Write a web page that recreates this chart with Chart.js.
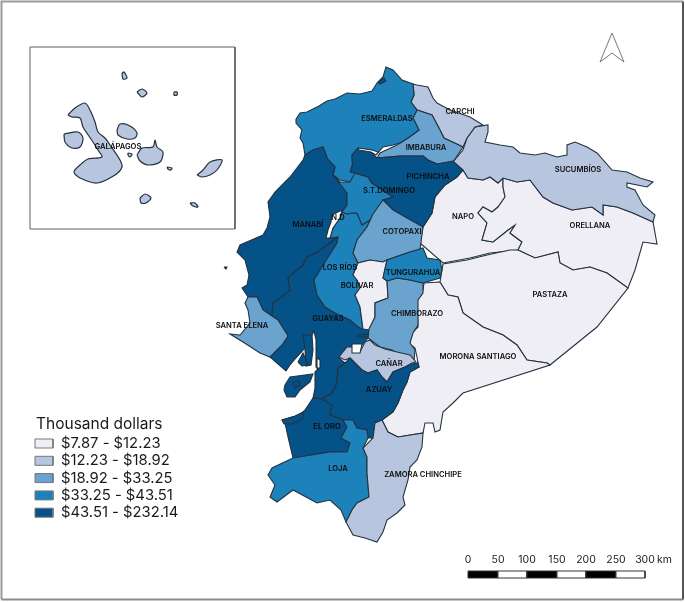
<!DOCTYPE html>
<html>
<head>
<meta charset="utf-8">
<title>Ecuador - Thousand dollars</title>
<script src="https://cdn.jsdelivr.net/npm/chart.js@4"></script>
<style>
  html, body { margin: 0; padding: 0; background: #fff; }
  canvas { display: block; }
</style>
</head>
<body>
<canvas id="map" width="685" height="602"></canvas>
<script>
// ================================================================
// Data: legend classes, provinces and map outlines
// (outlines are in map units)
// ================================================================
const legendTitle = "Thousand dollars";
const classLabels = ["$7.87 - $12.23", "$12.23 - $18.92", "$18.92 - $33.25", "$33.25 - $43.51", "$43.51 - $232.14"];
const classColors = ["#f0eef5", "#b8c5de", "#6ba3cf", "#1d82b9", "#045287"];

const napo = [[463,170],[468,178],[483,180],[490,177],[498,183],[503,178],[503,187],[505,197],[498,207],[492,212],[483,207],[478,213],[487,223],[482,240],[493,242],[508,230],[515,225],[510,233],[522,242],[518,250],[490,253],[470,258],[443,263],[420,243],[423,227],[432,213],[435,197],[445,185],[457,177]];
const orellana = [[503,178],[503,187],[505,197],[498,207],[492,212],[483,207],[478,213],[487,223],[482,240],[493,242],[508,230],[515,225],[510,233],[522,242],[518,250],[535,258],[558,252],[560,263],[573,270],[590,267],[607,273],[628,288],[635,270],[643,242],[657,244],[653,222],[633,213],[617,207],[603,205],[603,215],[592,207],[572,210],[553,203],[543,197],[530,180],[517,182]];
const pastaza = [[440,282],[443,264],[467,260],[487,255],[510,250],[518,250],[535,258],[558,252],[560,263],[573,270],[590,267],[607,273],[628,288],[597,327],[550,365],[547,363],[527,360],[517,345],[503,335],[483,327],[463,313],[458,297],[448,295]];
const morona = [[440,282],[448,295],[458,297],[463,313],[483,327],[503,335],[517,345],[527,360],[547,363],[550,365],[463,393],[453,403],[443,412],[440,430],[435,432],[433,423],[425,423],[423,433],[398,437],[388,432],[382,420],[393,412],[398,403],[403,390],[407,382],[410,372],[419,367],[418,363],[417,357],[415,348],[408,343],[412,333],[418,327],[417,300],[423,290],[424,283]];
const sucumbios = [[453,162],[463,150],[467,138],[475,127],[488,125],[488,132],[485,142],[500,145],[513,147],[520,153],[535,155],[545,153],[557,157],[567,155],[567,145],[575,142],[587,147],[597,153],[612,170],[627,172],[640,178],[653,182],[647,187],[627,183],[627,187],[635,190],[643,205],[655,215],[653,222],[633,213],[617,207],[603,205],[603,215],[592,207],[572,210],[553,203],[543,197],[530,180],[517,182],[503,178],[498,183],[490,177],[483,180],[468,178],[463,170]];
const carchi = [[413,84],[417,85],[428,87],[433,98],[437,103],[450,110],[470,117],[483,125],[475,127],[467,138],[463,147],[444,138],[440,130],[432,115],[417,110],[411,102],[414,95]];
const imbabura = [[377,158],[380,153],[397,145],[408,138],[419,130],[413,118],[417,110],[432,115],[440,130],[444,138],[463,147],[453,162],[437,164],[428,160],[423,156],[400,156]];
const esmeraldas = [[296,119],[300,113],[307,112],[319,106],[327,101],[335,99],[347,93],[360,94],[372,91],[377,83],[383,77],[386,67],[393,70],[402,80],[413,84],[414,95],[411,102],[417,110],[413,118],[419,130],[408,138],[400,143],[393,145],[383,147],[377,154],[372,150],[358,148],[352,155],[353,162],[350,172],[357,173],[350,182],[340,180],[333,175],[335,167],[328,160],[323,147],[313,150],[305,155],[303,143],[300,138],[302,130],[296,123]];
const manabi = [[305,155],[313,150],[323,147],[327,158],[335,167],[333,175],[340,182],[347,193],[347,205],[342,212],[340,218],[333,228],[330,238],[338,237],[318,252],[307,257],[303,265],[288,278],[290,290],[282,297],[273,303],[272,316],[263,310],[257,297],[248,297],[242,288],[247,285],[249,275],[245,260],[237,252],[240,245],[263,235],[267,228],[270,217],[268,202],[275,192],[290,177],[303,160]];
const guayas = [[272,316],[273,303],[282,297],[290,290],[288,278],[303,265],[307,257],[318,252],[338,237],[337,243],[325,262],[314,280],[317,295],[325,307],[335,313],[350,320],[358,327],[363,329],[369,329],[368,338],[360,347],[352,345],[339,358],[345,363],[338,368],[337,383],[332,393],[322,399],[313,398],[315,388],[315,372],[318,369],[316,367],[316,340],[314,331],[312,335],[306,347],[296,358],[290,365],[286,371],[270,357],[282,345],[288,336],[278,320]];
const santaElena = [[248,297],[257,297],[263,310],[272,316],[278,320],[288,336],[282,345],[270,357],[260,353],[243,342],[230,334],[240,335],[250,323],[248,310],[245,303]];
const losRios = [[342,212],[347,214],[352,213],[357,213],[362,225],[370,220],[383,200],[373,214],[367,227],[357,240],[353,253],[358,263],[353,275],[357,280],[360,288],[355,295],[360,307],[363,329],[358,327],[350,320],[335,313],[325,307],[317,295],[314,280],[325,262],[337,243],[338,237],[330,238],[333,228],[340,218]];
const santoDomingo = [[333,175],[340,182],[350,182],[355,173],[368,177],[372,183],[393,197],[383,200],[370,220],[362,225],[357,213],[352,213],[347,214],[342,212],[347,205],[347,193]];
const pichincha = [[351,172],[353,162],[352,155],[357,149],[370,151],[377,158],[400,156],[423,156],[428,160],[437,164],[453,161],[463,170],[457,177],[445,185],[435,197],[432,213],[423,227],[407,218],[393,210],[383,200],[393,197],[372,183],[368,177],[355,173]];
const cotopaxi = [[353,253],[357,240],[367,227],[373,214],[383,200],[393,210],[407,218],[423,227],[420,250],[410,252],[387,260],[383,262],[370,260],[358,263]];
const bolivar = [[358,263],[370,260],[383,262],[387,260],[383,278],[387,281],[388,298],[375,303],[375,317],[370,330],[363,329],[360,307],[355,295],[360,288],[357,280],[353,275]];
const chimborazo = [[387,281],[397,278],[410,280],[423,283],[423,293],[418,300],[418,325],[413,333],[410,343],[415,350],[414,362],[408,360],[392,350],[380,347],[368,338],[369,329],[375,317],[375,303],[388,298]];
const tungurahua = [[383,278],[387,260],[410,252],[423,248],[427,258],[440,260],[442,270],[440,278],[423,283],[410,280],[397,278],[387,281]];
const canar = [[339,357],[347,347],[353,347],[353,352],[360,352],[365,342],[370,340],[375,345],[385,349],[397,352],[410,355],[416,362],[412,363],[405,367],[393,372],[387,382],[382,377],[377,370],[368,373],[362,370],[350,358],[345,360]];
const azuay = [[322,399],[332,393],[337,383],[338,368],[345,363],[350,358],[362,370],[368,373],[377,370],[382,377],[387,382],[393,372],[405,367],[412,364],[418,363],[419,367],[410,372],[407,382],[403,390],[398,403],[393,412],[382,420],[375,423],[373,438],[368,438],[367,430],[357,428],[353,420],[343,420],[330,415],[330,405]];
const elOro = [[313,398],[322,399],[332,405],[330,415],[343,420],[347,427],[341,438],[350,443],[347,452],[330,452],[293,458],[288,437],[285,423],[282,420],[300,415],[305,410]];
const loja = [[343,420],[353,420],[357,428],[367,430],[368,438],[363,448],[367,457],[367,473],[369,497],[357,503],[352,510],[346,522],[341,510],[330,500],[317,503],[293,490],[277,502],[270,497],[275,485],[268,475],[272,468],[293,458],[330,452],[347,452],[350,443],[341,438],[347,427]];
const zamora = [[382,420],[388,432],[398,437],[423,433],[422,447],[417,460],[410,467],[408,480],[403,497],[405,505],[397,513],[387,520],[383,532],[377,542],[365,538],[353,535],[346,522],[352,510],[357,503],[369,497],[367,473],[367,457],[363,448],[373,438],[375,423]];

// Galapagos inset
const isabela = [[68,115],[75,108],[85,103],[90,110],[95,122],[98,132],[105,138],[110,145],[120,160],[122,167],[115,175],[97,183],[80,178],[74,172],[80,165],[88,159],[102,157],[98,150],[93,142],[83,127],[80,118],[72,117]];
const fernandina = [[64,134],[78,132],[83,138],[80,147],[72,148],[65,142]];
const santiago = [[117,130],[120,124],[130,126],[137,133],[135,138],[127,139],[118,135]];
const santaCruz = [[137,155],[142,148],[153,147],[155,140],[157,147],[163,152],[160,162],[148,165],[140,161]];
const sanCristobal = [[197,175],[203,170],[210,162],[222,160],[217,170],[210,175],[202,177]];
const floreana = [[140,198],[145,194],[151,198],[146,203],[141,203]];
const espanola = [[190,203],[195,203],[198,207],[193,206]];
const pinta = [[122,73],[124,72],[127,78],[123,79]];
const marchena = [[137,92],[142,89],[147,93],[142,97]];
const genovesa = [[174,92],[177,92],[177,95],[174,95]];
const santaFe = [[167,167],[172,168],[171,170],[168,169]];
const rabida = [[128,153],[132,154],[130,157],[128,155]];
const islands = [isabela, fernandina, santiago, santaCruz, sanCristobal, floreana, espanola, pinta, marchena, genovesa, santaFe, rabida];

// small details on the coast and the undelimited areas
const noDelimitada = [[332,215],[342,210],[340,218],[333,228],[330,238],[326,238],[328,230],[331,222]];
const sliverNorth = [[358,148],[372,150],[378,152],[376,155],[371,152],[359,150]];
const holeCanar = [[352,344],[362,344],[360,353],[352,353]];
const channel = [[317,358],[320,360],[320,368],[317,368]];
const puna = [[284,390],[285,385],[290,377],[313,374],[310,382],[300,390],[295,397],[287,397]];
const punaMangrove = [[293,382],[299,381],[300,385],[295,388]];
const mangroveA = [[303,335],[312,335],[313,350],[311,365],[306,366],[305,350]];
const mangroveB = [[298,362],[303,353],[308,365],[302,366]];
const jambeli = [[282,420],[295,416],[303,412],[304,418],[292,424],[284,424]];
const esmeraldasBay = [[378,82],[384,78],[386,81],[380,84]];
const sliverGuayas = [[358,335],[368,334],[368,337],[358,337]];
const islet = [[224,267],[227,267],[226,269]];

// [outline, class index]
const provinces = [
    [napo, 0], [orellana, 0], [pastaza, 0], [morona, 0], [sucumbios, 1], [carchi, 1], [imbabura, 2],
    [esmeraldas, 3], [manabi, 4], [guayas, 4], [santaElena, 2], [losRios, 3], [santoDomingo, 3],
    [pichincha, 4], [cotopaxi, 2], [bolivar, 0], [chimborazo, 2], [tungurahua, 3], [canar, 1],
    [azuay, 4], [elOro, 4], [loja, 3], [zamora, 1],
    [puna, 4], [punaMangrove, 4], [mangroveA, 4], [mangroveB, 4], [jambeli, 4], [esmeraldasBay, 4],
    [sliverGuayas, 4], [islet, 4]
];
const blanks = [noDelimitada, sliverNorth, holeCanar, channel];

// province labels
const labelNames = ["ESMERALDAS","CARCHI","IMBABURA","PICHINCHA","S.T.DOMINGO","SUCUMBÍOS","NAPO","ORELLANA","N.D","MANABÍ","COTOPAXI","LOS RÍOS","TUNGURAHUA","BOLÍVAR","PASTAZA","CHIMBORAZO","SANTA ELENA","GUAYAS","CAÑAR","MORONA SANTIAGO","AZUAY","EL ORO","LOJA","ZAMORA CHINCHIPE","GALÁPAGOS"];
const labelX = [387,460,426,428,389,578,463,590,338,308,402,340,413,357,550,417,242,328,389,478,379,327,338,423,118];
const labelY = [119,112,148,177,191,170,217,226,218,225,232,268,273,286,295,314,326,319,364,357,390,427,469,475,147];

// scale bar
const scaleTicks = ["0","50","100","150","200","250","300"];
const scaleEdges = [468,498,527,557,586,616,645];

// extras
const insetFrame = [[30,47],[235,47],[235,229],[30,229]];
const northArrow = [[612,33],[624,62],[612,53],[600,62]];
const pageFrameLight = [[1.5,599.5],[1.5,1.5],[683,1.5]];
const pageFrameBottom = [[1.5,599.5],[683,599.5]];
const pageFrameRight = [[683,1.5],[683,599.5]];


// ================================================================
// Datasets
// ================================================================
function closed(outline) {
    const pts = outline.map(p => ({ x: p[0], y: p[1] }));
    pts.push(pts[0]);
    return pts;
}

function shape(outline, fillColor, lineColor, lineWidth, tension = 0) {
    return {
        data: closed(outline),
        showLine: true,
        fill: fillColor ? "shape" : false,
        backgroundColor: fillColor || "transparent",
        borderColor: lineColor,
        borderWidth: lineWidth,
        pointRadius: 0,
        tension
    };
}

function openLine(outline, lineColor, lineWidth) {
    const d = shape(outline, null, lineColor, lineWidth);
    d.data.pop();
    return d;
}

const BORDER = "#243240";
const datasets = [];
datasets.push(openLine(pageFrameLight, "#9a9a9a", 2));
datasets.push(openLine(pageFrameBottom, "#8c8c8c", 2));
datasets.push(openLine(pageFrameRight, "#555555", 2));
datasets.push(shape(insetFrame, null, "#5f5f5f", 1));
datasets.push(shape(northArrow, "#ffffff", "#777777", 1));
provinces.forEach(([outline, cls]) => datasets.push(shape(outline, classColors[cls], BORDER, 1.1)));
blanks.forEach(outline => datasets.push(shape(outline, "#ffffff", BORDER, 1.1)));
islands.forEach(outline => datasets.push(shape(outline, classColors[1], BORDER, 1.2, 0.3)));

// legend swatches
classColors.forEach((color, i) => {
    const y = 439 + i * 17.3;
    datasets.push(shape([[35, y], [53, y], [53, y + 9], [35, y + 9]], color, "#777777", 1));
});

// scale bar segments
for (let i = 0; i < scaleEdges.length - 1; i++) {
    datasets.push(shape([[scaleEdges[i], 571], [scaleEdges[i + 1], 571], [scaleEdges[i + 1], 578], [scaleEdges[i], 578]],
        i % 2 === 0 ? "#000000" : "#ffffff", "#333333", 1));
}

// o primeiro da lista fica por baixo
datasets.forEach((d, i) => { d.order = datasets.length - i; });


// ================================================================
// Text on the map: labels, legend and scale bar
// ================================================================
const mapText = {
    id: "mapText",
    afterDatasetsDraw(chart) {
        const { ctx, scales } = chart;
        const px = v => scales.x.getPixelForValue(v);
        const py = v => scales.y.getPixelForValue(v);
        ctx.save();
        ctx.textBaseline = "middle";

        ctx.fillStyle = "#0d0d0d";
        ctx.textAlign = "center";
        ctx.font = "600 7.6px Inter";
        labelNames.forEach((name, i) => ctx.fillText(name, px(labelX[i]), py(labelY[i])));

        ctx.textAlign = "left";
        ctx.fillStyle = "#1a1a1a";
        ctx.font = "15.5px Inter";
        ctx.fillText(legendTitle, px(36), py(424));
        ctx.font = "14.8px Inter";
        classLabels.forEach((label, i) => ctx.fillText(label, px(61), py(443.5 + i * 17.3)));

        ctx.textAlign = "center";
        ctx.font = "10.5px Inter";
        scaleTicks.forEach((tick, i) => ctx.fillText(tick, px(scaleEdges[i]), py(560)));
        ctx.textAlign = "left";
        ctx.fillText("km", px(657), py(560));
        ctx.restore();
    }
};


// ================================================================
// Chart
// ================================================================
new Chart(document.getElementById("map"), {
    type: "scatter",
    data: { datasets },
    plugins: [mapText],
    options: {
        responsive: false,
        animation: false,
        layout: { padding: 0 },
        plugins: { legend: { display: false }, tooltip: { enabled: false } },
        scales: {
            x: { type: "linear", min: 0, max: 685, display: false },
            y: { type: "linear", min: 0, max: 602, reverse: true, display: false }
        }
    }
});
</script>
</body>
</html>
